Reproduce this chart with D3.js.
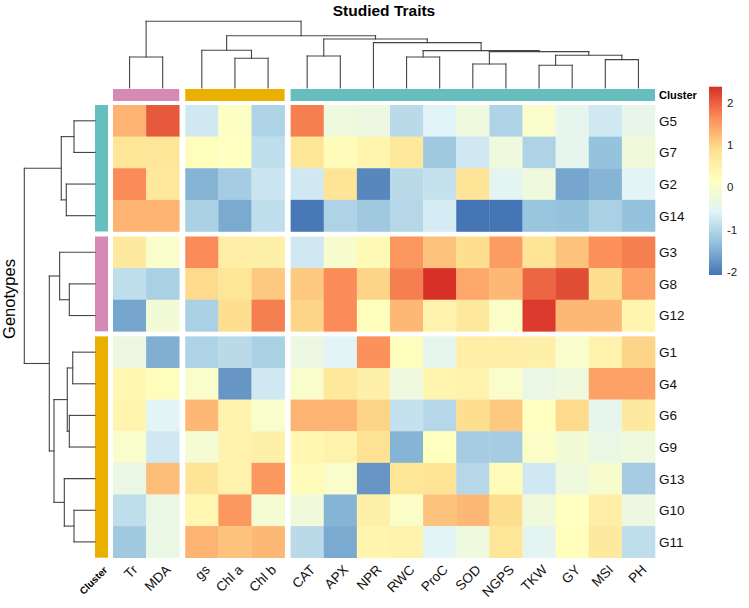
<!DOCTYPE html>
<html><head><meta charset="utf-8">
<script src="https://cdn.jsdelivr.net/npm/d3@7"></script>
<style>body{margin:0;background:#fff}svg{display:block}text{font-family:"Liberation Sans",Arial,sans-serif}</style>
</head><body><svg id="c" width="749" height="608"></svg>
<script>
const genotypes = ["G5","G7","G2","G14","G3","G8","G12","G1","G4","G6","G9","G13","G10","G11"];
const genotypeCluster = [0,0,0,0,1,1,1,2,2,2,2,2,2,2];
const traits = ["Tr","MDA","gs","Chl a","Chl b","CAT","APX","NPR","RWC","ProC","SOD","NGPS","TKW","GY","MSI","PH"];
const traitCluster = [0,0,1,1,1,2,2,2,2,2,2,2,2,2,2,2];
const rowClusterColors = ["#66BEBE","#D58AB6","#EBAF00"];
const colClusterColors = ["#D58AB6","#EBAF00","#66BEBE"];
// standardized values, rows = genotypes, columns = traits
const vG5  = [1.3, 2.05,-0.75, 0.1,-1.05, 1.75,-0.25,-0.3,-0.95,-0.6,-0.25,-1.05, 0.0,-0.45,-0.75,-0.4];
const vG7  = [0.75,0.75, 0.2, 0.12,-0.9, 0.75, 0.25, 0.4, 0.7,-1.2,-0.75,-0.25,-1.05,-0.45,-1.3,-0.2];
const vG2  = [1.65,0.7,-1.45,-1.15,-0.8,-0.75, 0.8,-1.9,-0.95,-0.85, 0.8,-0.5,-0.25,-1.6,-1.45,-0.55];
const vG14 = [1.3, 1.3,-1.1,-1.55,-0.9,-2.05,-1.05,-1.2,-1.0,-0.7,-2.08,-2.08,-1.25,-1.3,-1.1,-1.3];
const vG3  = [0.65,0.0, 1.65, 0.55, 0.5,-0.75,-0.05, 0.3, 1.55, 1.15, 0.9, 1.5, 0.8, 1.15, 1.6, 1.75];
const vG8  = [-0.9,-1.1,0.95, 0.75, 1.1, 1.1, 1.65, 1.0, 1.75, 2.38, 1.4, 1.25, 1.95, 2.15, 0.9, 1.45];
const vG12 = [-1.6,-0.15,-1.1,0.9, 1.75, 1.0, 1.65, 0.2, 1.25, 0.45, 0.7, 0.05, 2.3, 1.25, 1.25, 0.4];
const vG1  = [-0.3,-1.5,-1.05,-0.95,-1.1,-0.3,-0.55, 1.6, 0.2,-0.45, 0.55, 0.55, 0.5, 0.0, 0.45, 1.0];
const vG4  = [0.35,0.2, 0.0,-1.75,-0.75, 0.0, 0.7, 0.5,-0.25, 0.4, 0.45, 0.0,-0.35,-0.25, 1.45, 1.45];
const vG6  = [0.4,-0.55,1.25, 0.45, 0.0, 1.3, 1.3, 1.0,-0.85,-1.0, 0.9, 1.1, 0.15, 0.95,-0.45, 0.65];
const vG9  = [0.0,-0.75,-0.1, 0.45, 0.5, 0.35, 0.45, 0.85,-1.45, 0.15,-1.15,-1.15, 0.05,-0.15,-0.35,-0.25];
const vG13 = [-0.35,1.2, 0.8, 0.45, 1.55, 0.25, 0.0,-1.75, 0.75, 0.8,-1.0, 0.25,-0.75,-0.25,-0.05,-1.15];
const vG10 = [-0.9,-0.35,0.35,1.55,-0.1,-0.2,-1.45, 0.5, 0.05, 1.15, 1.25, 0.9,-0.2, 0.15, 0.55,-0.3];
const vG11 = [-1.2,-0.35,1.3, 1.15, 1.25,-0.95,-1.55, 0.4, 0.45,-0.55,-0.25, 0.75,-0.5, 0.2, 0.65,-0.9];
const values = [vG5,vG7,vG2,vG14,vG3,vG8,vG12,vG1,vG4,vG6,vG9,vG13,vG10,vG11];
const legendTicks = [-2,-1,0,1,2];
const valueRange = [-2.08, 2.38];
const palette = ["#4575B4","#91BFDB","#E0F3F8","#FFFFBF","#FEE090","#FC8D59","#D73027"];
// dendrograms: merge heights (relative distance)
const traitTree = {h:10, c:[{h:4.65,c:["Tr","MDA"]},
  {h:7.84,c:[{h:5.65,c:["gs",{h:4.45,c:["Chl a","Chl b"]}]},
    {h:7.35,c:[{h:4.8,c:["CAT","APX"]},
      {h:6.8,c:["NPR",{h:5.6,c:[{h:4.65,c:["RWC","ProC"]},
        {h:5.45,c:[{h:3.6,c:["SOD","NGPS"]},{h:4.9,c:[{h:3.4,c:["TKW","GY"]},{h:4.25,c:["MSI","PH"]}]}]}]}]}]}]}]};
const genoTree = {h:10, c:[{h:4.77,c:[{h:2.97,c:["G5","G7"]},{h:4.06,c:["G2","G14"]}]},
  {h:6.46,c:[{h:5.0,c:["G3",{h:3.63,c:["G8","G12"]}]},
    {h:5.8,c:[{h:3.92,c:[{h:3.15,c:["G1","G4"]},{h:3.63,c:["G6","G9"]}]},
      {h:4.34,c:["G13",{h:2.97,c:["G10","G11"]}]}]}]}]};

const svg = d3.select("#c");
const hx0 = 113, hx1 = 655, colGap = 6, hy0 = 105, hy1 = 557.7, rowGap = 5;
const cw = (hx1-hx0-2*colGap)/traits.length, ch = (hy1-hy0-2*rowGap)/genotypes.length;
const xBand = d3.scaleBand().domain(traits).range([0, cw*traits.length]);
const yBand = d3.scaleBand().domain(genotypes).range([0, ch*genotypes.length]);
const X = t => hx0 + xBand(t) + traitCluster[traits.indexOf(t)]*colGap;
const Y = g => hy0 + yBand(g) + genotypeCluster[genotypes.indexOf(g)]*rowGap;
const stops = d3.range(palette.length).map(i => valueRange[0] + i*(valueRange[1]-valueRange[0])/(palette.length-1));
const color = d3.scaleLinear().domain(stops).range(palette).interpolate(d3.interpolateRgb).clamp(true);

// cells
const cells = [];
genotypes.forEach((g,i)=>traits.forEach((t,j)=>cells.push({g,t,v:values[i][j]})));
svg.append("g").selectAll("rect").data(cells).join("rect")
  .attr("x",d=>X(d.t)).attr("y",d=>Y(d.g)).attr("width",cw+0.3).attr("height",ch+0.3)
  .attr("fill",d=>color(d.v));

// column annotation
svg.append("g").selectAll("rect").data(d3.range(3)).join("rect")
  .attr("x",k=>X(traits[traitCluster.indexOf(k)]))
  .attr("width",k=>cw*traitCluster.filter(c=>c===k).length)
  .attr("y",89).attr("height",12).attr("fill",k=>colClusterColors[k]);
// row annotation
svg.append("g").selectAll("rect").data(d3.range(3)).join("rect")
  .attr("y",k=>Y(genotypes[genotypeCluster.indexOf(k)]))
  .attr("height",k=>ch*genotypeCluster.filter(c=>c===k).length)
  .attr("x",95).attr("width",13).attr("fill",k=>rowClusterColors[k]);

// dendrograms
function layout(node, pos){
  if (typeof node === "string") return {p: pos(node), h: 0};
  const kids = node.c.map(k=>layout(k,pos));
  return {p: d3.mean(kids,k=>k.p), h: node.h, kids};
}
function drawTree(root, g, toXY){
  const segs = [];
  (function walk(n){
    if(!n.kids) return;
    n.kids.forEach(k=>{ segs.push([toXY(k.p,k.h),toXY(k.p,n.h)]); walk(k); });
    segs.push([toXY(n.kids[0].p,n.h),toXY(n.kids[1].p,n.h)]);
  })(root);
  g.selectAll("line").data(segs).join("line")
    .attr("x1",d=>d[0][0]).attr("y1",d=>d[0][1]).attr("x2",d=>d[1][0]).attr("y2",d=>d[1][1])
    .attr("stroke","#444").attr("stroke-width",1.1).attr("stroke-linecap","square");
}
const yD = d3.scaleLinear().domain([0,10]).range([88,21.3]);
const xD = d3.scaleLinear().domain([0,10]).range([95,24.3]);
drawTree(layout(traitTree, t=>X(t)+cw/2), svg.append("g"), (p,h)=>[p, yD(h)]);
drawTree(layout(genoTree, g=>Y(g)+ch/2), svg.append("g"), (p,h)=>[xD(h), p]);

// row labels
svg.append("g").selectAll("text").data(genotypes).join("text")
  .attr("x",659).attr("y",g=>Y(g)+ch/2).attr("dy","0.36em")
  .attr("font-size",13.5).attr("fill","#111").text(g=>g);
// column labels (rotated 45 degrees)
const colLab = svg.append("g").selectAll("g").data(traits).join("g")
  .attr("transform",t=>"translate(" + (X(t)+cw/2+2) + "," + (hy1+6) + ")");
colLab.append("text").attr("transform","rotate(-45)")
  .attr("text-anchor","end").attr("dy","0.72em")
  .attr("font-size",13.5).attr("fill","#111").text(t=>t);
svg.append("g").attr("transform",`translate(103,${hy1+8})`).append("text").attr("transform","rotate(-45)")
  .attr("text-anchor","end").attr("dy","0.72em").attr("font-size",10).attr("font-weight","bold").text("Cluster");
svg.append("text").attr("x",659).attr("y",95).attr("dy","0.36em")
  .attr("font-size",11).attr("font-weight","bold").text("Cluster");

// titles
svg.append("text").attr("x",(hx0+hx1)/2).attr("y",16).attr("text-anchor","middle")
  .attr("font-size",15.5).attr("font-weight","bold").text("Studied Traits");
svg.append("text").attr("transform","translate(15,299) rotate(-90)").attr("text-anchor","middle")
  .attr("font-size",16.5).text("Genotypes");

// legend
const lg = svg.append("g");
const ly = d3.scaleLinear().domain(valueRange).range([275,86.7]);
const defs = svg.append("defs");
const grad = defs.append("linearGradient").attr("id","lgd").attr("x1",0).attr("y1",1).attr("x2",0).attr("y2",0);
grad.selectAll("stop").data(stops).join("stop")
  .attr("offset",(d,i)=>i/(stops.length-1)).attr("stop-color",d=>color(d));
lg.append("rect").attr("x",709).attr("y",ly(valueRange[1])).attr("width",13)
  .attr("height",ly(valueRange[0])-ly(valueRange[1])).attr("fill","url(#lgd)");
lg.selectAll("text").data(legendTicks).join("text")
  .attr("x",727).attr("y",d=>ly(d)).attr("dy","0.36em").attr("font-size",11.5).attr("fill","#222").text(d=>d);
</script></body></html>
